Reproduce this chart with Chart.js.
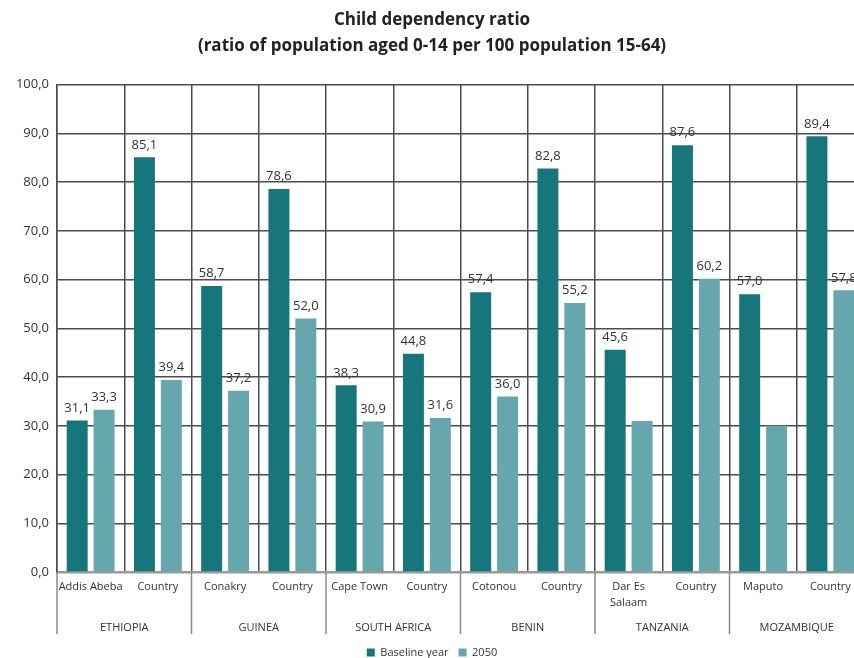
<!DOCTYPE html>
<html><head><meta charset="utf-8">
<script src="https://cdn.jsdelivr.net/npm/chart.js@4/dist/chart.umd.min.js"></script>
<style>
html,body{margin:0;padding:0;background:#fff;overflow:hidden}
#wrap{width:854px;height:658px;overflow:hidden;position:relative}
#wrap canvas{display:block}
</style></head><body>
<div id="wrap"><canvas id="c" width="864" height="658"></canvas></div>
<script>
const cities = ['Addis Abeba','Country','Conakry','Country','Cape Town','Country','Cotonou','Country',['Dar Es','Salaam'],'Country','Maputo','Country'];
const countries = ['ETHIOPIA','GUINEA','SOUTH AFRICA','BENIN','TANZANIA','MOZAMBIQUE'];
const baseline = [31.1,85.1,58.7,78.6,38.3,44.8,57.4,82.8,45.6,87.6,57.0,89.4];
const y2050 = [33.3,39.4,37.2,52.0,30.9,31.6,36.0,55.2,31.0,60.2,30.0,57.8];
const show2050Label = [true,true,true,true,true,true,true,true,false,true,false,true];
const seriesNames = ['Baseline year','2050'];
const yMin = 0, yMax = 100, yStep = 10;

const FONT = "'Open Sans', 'DejaVu Sans', sans-serif";
const fmt = v => v.toFixed(1).replace('.', ',');

const labelPlugin = {
  id: 'valueLabels',
  afterDatasetsDraw(chart) {
    const ctx = chart.ctx;
    ctx.save();
    ctx.font = '13px ' + FONT;
    ctx.fillStyle = '#333';
    ctx.textAlign = 'center';
    ctx.textBaseline = 'bottom';
    chart.data.datasets.forEach((ds, i) => {
      const meta = chart.getDatasetMeta(i);
      meta.data.forEach((el, j) => {
        if (i === 1 && !show2050Label[j]) return;
        ctx.fillText(fmt(ds.data[j]), el.x, el.y - 6);
      });
    });
    ctx.restore();
  }
};

const sepPlugin = {
  id: 'groupSeparators',
  afterDraw(chart) {
    const xs = chart.scales.x;
    const ctx = chart.ctx;
    const half = (xs.getPixelForValue(1) - xs.getPixelForValue(0)) / 2;
    const bottom = chart.chartArea.bottom;
    ctx.save();
    ctx.strokeStyle = '#8a8a8a';
    ctx.lineWidth = 1.5;
    for (let k = 0; k <= countries.length; k++) {
      const x = xs.getPixelForValue(k * 2) - half;
      ctx.beginPath();
      ctx.moveTo(x, bottom);
      ctx.lineTo(x, bottom + 62);
      ctx.stroke();
    }
    ctx.restore();
  }
};

new Chart(document.getElementById('c'), {
  type: 'bar',
  data: {
    labels: cities,
    datasets: [
      { label: seriesNames[0], data: baseline, backgroundColor: '#16767c', categoryPercentage: 0.8, barPercentage: 0.78 },
      { label: seriesNames[1], data: y2050, backgroundColor: '#66a7ad', categoryPercentage: 0.8, barPercentage: 0.78 }
    ]
  },
  options: {
    responsive: false,
    animation: false,
    layout: { padding: { left: 0, right: 0, top: 0, bottom: -10 } },
    plugins: {
      title: {
        display: true,
        text: ['Child dependency ratio', '(ratio of population aged 0-14 per 100 population 15-64)'],
        color: '#222',
        font: { family: FONT, size: 17, weight: 'bold', lineHeight: 1.55 },
        padding: { top: 7, bottom: 25 }
      },
      legend: {
        position: 'bottom',
        labels: {
          color: '#333',
          font: { family: FONT, size: 11 },
          boxWidth: 8, boxHeight: 8, padding: 10
        }
      },
      tooltip: { enabled: false }
    },
    scales: {
      x: {
        type: 'category',
        position: 'bottom',
        grid: { display: true, color: '#4d4d4d', lineWidth: 1.5, drawTicks: false, offset: true },
        border: { display: true, color: '#9a9a9a', width: 2.5 },
        ticks: { color: '#333', font: { family: FONT, size: 11, lineHeight: 1.45 }, padding: 7, maxRotation: 0, autoSkip: false },
        afterFit: s => { s.height = 43; }
      },
      x2: {
        type: 'category',
        position: 'bottom',
        labels: countries,
        offset: true,
        grid: { display: false, drawTicks: false },
        border: { display: false },
        ticks: { color: '#333', font: { family: FONT, size: 11 }, padding: 6, maxRotation: 0, autoSkip: false },
        afterFit: s => { s.height = 22; }
      },
      y: {
        min: yMin, max: yMax,
        grid: { color: '#4d4d4d', lineWidth: 1.5, drawTicks: false },
        border: { display: true, color: '#4d4d4d', width: 1.5 },
        ticks: { stepSize: yStep, color: '#333', font: { family: FONT, size: 13 }, padding: 8, callback: v => fmt(v) },
        afterFit: s => { s.width = 57; }
      }
    }
  },
  plugins: [labelPlugin, sepPlugin]
});
</script>
</body></html>
